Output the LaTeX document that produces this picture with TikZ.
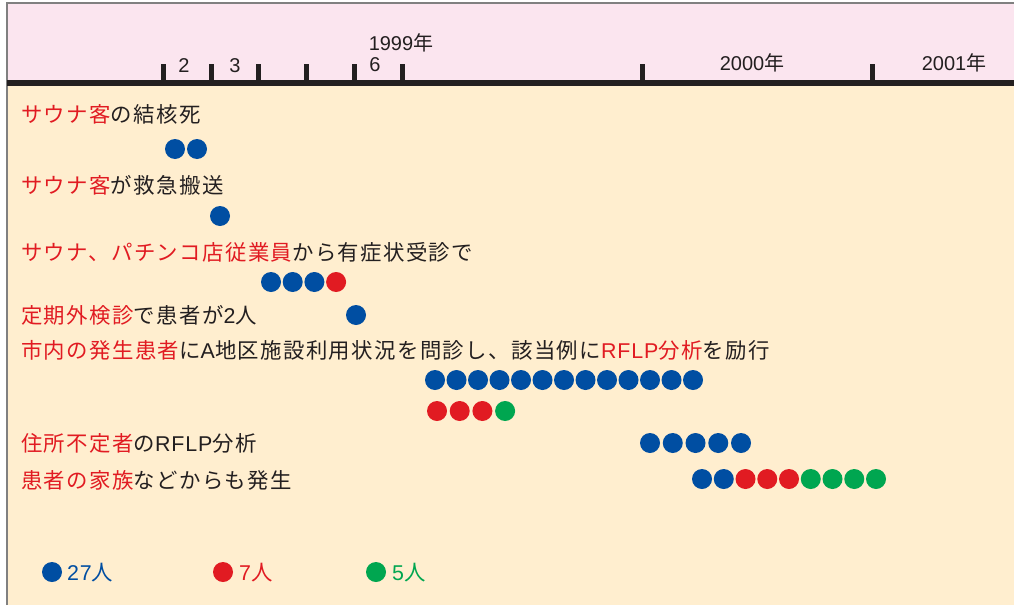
\documentclass[tikz,border=0pt]{standalone}
\usepackage{fontspec}
\setmainfont{Noto Sans CJK JP}[LetterSpace=6.5]
\newfontfamily\lat{Liberation Sans}[LetterSpace=4]
\newfontfamily\latax{Liberation Sans}
\definecolor{pinkbg}{HTML}{FBE5EF}
\definecolor{creambg}{HTML}{FFEECF}
\definecolor{dblue}{HTML}{004EA2}
\definecolor{dred}{HTML}{E11B22}
\definecolor{dgreen}{HTML}{00A650}
\definecolor{txt}{HTML}{231F20}
\definecolor{framec}{HTML}{808080}
\begin{document}
\begin{tikzpicture}[x=1pt,y=-1pt,
  lbl/.style={anchor=west,inner sep=0pt,font=\fontsize{21.4}{24}\selectfont,text=txt},
  axlbl/.style={anchor=center,inner sep=0pt,font=\fontsize{20}{24}\selectfont,text=txt},
  dot/.style={circle,minimum size=20pt,inner sep=0pt,draw=none,fill=#1},
  tick/.style={line width=5pt,draw=txt},
  axisline/.style={line width=6pt,draw=txt}]
\useasboundingbox (0,0) rectangle (1014,605);
% backgrounds
\fill[creambg] (7,83) rectangle (1014,605);
\fill[pinkbg] (7,3) rectangle (1014,83);
\draw[framec,line width=1.6pt] (7,605) -- (7,3) -- (1014,3);
% axis
\coordinate (axL) at (7,83);
\coordinate (axR) at (1014,83);
\draw[axisline] (axL) -- (axR);
\foreach \x [count=\i] in {163,211,258,306,354,402,642,872}{
  \coordinate (tt\i) at (\x,64);
  \coordinate (tb\i) at (\x,83);
  \draw[tick] (tt\i) -- (tb\i);
}
\node[axlbl] (m2) at (184,66) {{\latax 2}};
\node[axlbl] (m3) at (235,66) {{\latax 3}};
\node[axlbl] (m6) at (375,65) {{\latax 6}};
\node[axlbl] (y99) at (401,43) {{\latax 1999}年};
\node[axlbl] (y00) at (752,63) {{\latax 2000}年};
\node[axlbl] (y01) at (954,63) {{\latax 2001}年};
% texts
\node[lbl] (t1) at (21,114) {\textcolor{dred}{サウナ客}の結核死};
\node[lbl] (t2) at (21,185) {\textcolor{dred}{サウナ客}が救急搬送};
\node[lbl] (t3) at (21,252) {\textcolor{dred}{サウナ、パチンコ店従業員}から有症状受診で};
\node[lbl] (t4) at (21,315) {\textcolor{dred}{定期外検診}で患者が{\lat 2}人};
\node[lbl] (t5) at (21,350) {\textcolor{dred}{市内の発生患者}に{\lat A}地区施設利用状況を問診し、該当例に\textcolor{dred}{{\lat RFLP}分析}を励行};
\node[lbl] (t6) at (21,443) {\textcolor{dred}{住所不定者}の{\lat RFLP}分析};
\node[lbl] (t7) at (21,480) {\textcolor{dred}{患者の家族}などからも発生};
% dots
\node[dot=dblue] (a1) at (175,149) {};
\node[dot=dblue] (a2) at (197,149) {};
\node[dot=dblue] (b1) at (220,216) {};
\foreach \c [count=\i from 0] in {dblue,dblue,dblue,dred}
  \node[dot=\c] (c\i) at ({271+21.7*\i},282) {};
\node[dot=dblue] (d1) at (356,315) {};
\foreach \i in {0,...,12}
  \node[dot=dblue] (e\i) at ({435+21.5*\i},380) {};
\foreach \c [count=\i from 0] in {dred,dred,dred,dgreen}
  \node[dot=\c] (f\i) at ({437+22.7*\i},411) {};
\foreach \i in {0,...,4}
  \node[dot=dblue] (g\i) at ({650+22.75*\i},443) {};
\foreach \c [count=\i from 0] in {dblue,dblue,dred,dred,dred,dgreen,dgreen,dgreen,dgreen}
  \node[dot=\c] (h\i) at ({702+21.75*\i},479) {};
% legend
\node[dot=dblue] (lb) at (52,572) {};
\node[lbl,text=dblue] (lbt) at (67,573) {{\lat 27}人};
\node[dot=dred] (lr) at (223,572) {};
\node[lbl,text=dred] (lrt) at (239,573) {{\lat 7}人};
\node[dot=dgreen] (lg) at (376,572) {};
\node[lbl,text=dgreen] (lgt) at (392,573) {{\lat 5}人};
\end{tikzpicture}
\end{document}
